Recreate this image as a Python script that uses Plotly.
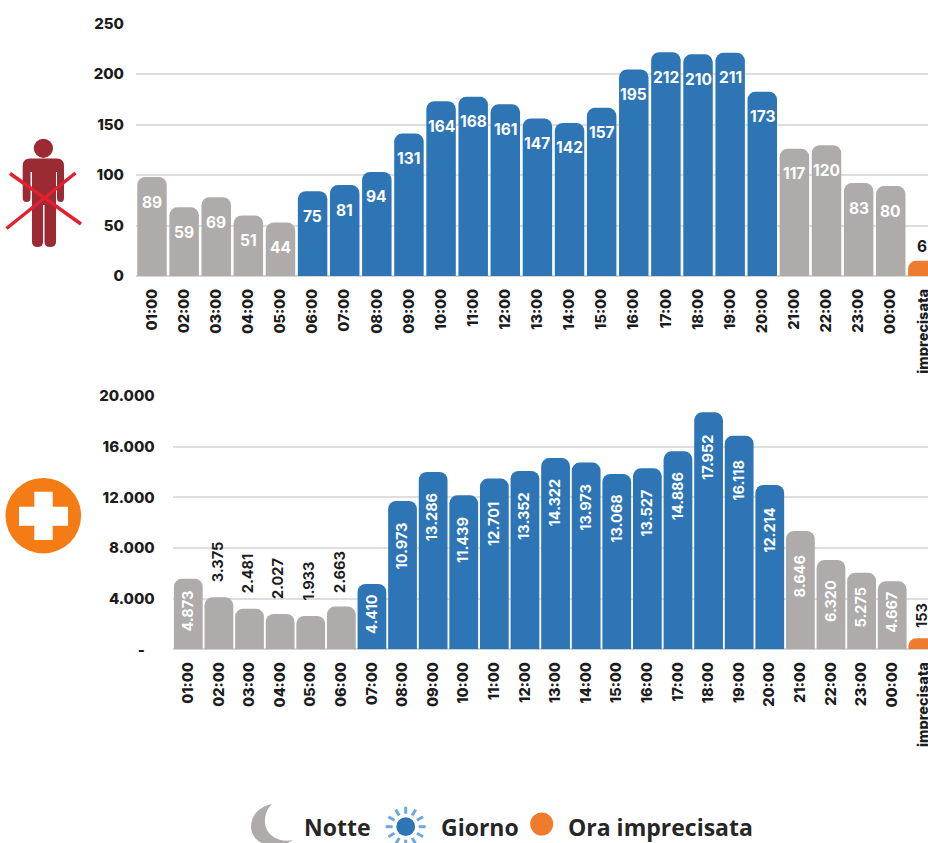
import math
import plotly.graph_objects as go

# ---------- data ----------
hours_top = ["01:00","02:00","03:00","04:00","05:00","06:00","07:00","08:00","09:00","10:00","11:00","12:00",
             "13:00","14:00","15:00","16:00","17:00","18:00","19:00","20:00","21:00","22:00","23:00","00:00","imprecisata"]
hours_bottom = list(hours_top)

top_heights = [98,68,78,60,53,84,90,103,141,173,177.5,170,156,151.5,166.5,204.5,221.5,219.5,221,182.5,126,129.5,92,89,15]
top_labels = ["89","59","69","51","44","75","81","94","131","164","168","161","147","142","157","195","212","210","211","173","117","120","83","80","6"]
top_periods = ["n"]*5 + ["g"]*15 + ["n"]*4 + ["o"]

bottom_heights = [5580,4106,3210,2790,2630,3370,5160,11710,14000,12160,13480,14080,15100,14740,13840,14290,15630,18710,16870,12970,9340,7050,6050,5370,870]
bottom_labels = ["4.873","3.375","2.481","2.027","1.933","2.663","4.410","10.973","13.286","11.439","12.701","13.352","14.322","13.973","13.068","13.527","14.886","17.952","16.118","12.214","8.646","6.320","5.275","4.667","153"]
bottom_periods = ["n"]*6 + ["g"]*14 + ["n"]*4 + ["o"]
bottom_outside = {"3.375","2.481","2.027","1.933","2.663","153"}

top_ticks = [0,50,100,150,200,250]
top_ticktext = ["0","50","100","150","200","250"]
bottom_ticks = [0,4000,8000,12000,16000,20000]
bottom_ticktext = ["-\u00a0\u00a0\u00a0","4.000","8.000","12.000","16.000","20.000"]

legend_names = ["Notte","Giorno","Ora imprecisata"]

# ---------- styles ----------
W, H = 928, 843
GRAY, BLUE, ORANGE = "#AEABAA", "#2E75B6", "#EF7B2D"
COL = {"n": GRAY, "g": BLUE, "o": ORANGE}
FONT = "Inter, 'Open Sans', sans-serif"
LEGEND_FONT = "'Open Sans', Inter, sans-serif"
INK = "#1c1c1c"

fig = go.Figure()
fig.add_trace(go.Bar(x=hours_top, y=top_heights, width=0.918, marker=dict(color=[COL[p] for p in top_periods], cornerradius=8, line_width=0),
                     xaxis="x", yaxis="y", showlegend=False, hoverinfo="skip"))
fig.add_trace(go.Bar(x=hours_bottom, y=bottom_heights, width=0.94, marker=dict(color=[COL[p] for p in bottom_periods], cornerradius=8, line_width=0),
                     xaxis="x2", yaxis="y2", showlegend=False, hoverinfo="skip"))
fig.add_trace(go.Scatter(x=[], y=[], xaxis="x3", yaxis="y3", showlegend=False))

ann = []
# top labels
for h, v, t in zip(hours_top, top_heights, top_labels):
    out = t == "6"
    ann.append(dict(x=h, y=v, xref="x", yref="y", text=t, showarrow=False, yanchor="middle", xanchor="center",
                    yshift=14 if out else -25, xshift=-1 if out else 0,
                    font=dict(family=FONT, size=15.5, weight=700, color=INK if out else "white")))
# bottom labels
px_per_unit = 253.3 / 20000
for h, v, t in zip(hours_bottom, bottom_heights, bottom_labels):
    out = t in bottom_outside
    if out:
        shift = 23 if t == "153" else 35
        color = INK
    else:
        shift = -min(45, 0.46 * v * px_per_unit)
        color = "white"
    ann.append(dict(x=h, y=v, xref="x2", yref="y2", text=t, showarrow=False, textangle=-90, yanchor="middle", xanchor="center",
                    yshift=shift, xshift=-2 if out else -1, font=dict(family=FONT, size=14.5, weight=700, color=color)))
# legend texts
for name, cx in zip(legend_names, [337, 479.5, 660.5]):
    ann.append(dict(x=cx, y=827, xref="x3", yref="y3", text=name, showarrow=False, xanchor="center", yanchor="middle",
                    font=dict(family=LEGEND_FONT, size=23, weight=700, color="#262626")))

shapes = []
def path(d, fill):
    shapes.append(dict(type="path", xref="x3", yref="y3", path=d, fillcolor=fill, line_width=0, layer="above"))
def circle(cx, cy, r, fill):
    shapes.append(dict(type="circle", xref="x3", yref="y3", x0=cx-r, x1=cx+r, y0=cy-r, y1=cy+r, fillcolor=fill, line_width=0, layer="above"))
def line(x0, y0, x1, y1, color, w):
    shapes.append(dict(type="line", xref="x3", yref="y3", x0=x0, y0=y0, x1=x1, y1=y1, line=dict(color=color, width=w), layer="above"))

# person with red cross
MAROON, RED = "#9B2A33", "#E2202E"
circle(43.4, 148.3, 9.6, MAROON)
path("M22.7 166 Q22.7 158.5 30 158.5 H57 Q64 158.5 64 166 V198 Q64 202 60.5 202 Q57 202 57 198 V172 H56 V242 Q56 247 50 247 "
     "Q44.5 247 44.5 242 V205 H43 V242 Q43 247 37.5 247 Q32 247 32 242 V172 H30.5 V198 Q30.5 202 26.6 202 Q22.7 202 22.7 198 Z", MAROON)
line(10, 173.5, 81, 224, RED, 3.5)
line(75.5, 173, 6.5, 228.5, RED, 3.5)

# medical cross
circle(43.3, 515.7, 37.8, "#F57C14")
path("M34.3 491.7 H52.7 V506.7 H68 V525.7 H52.7 V540 H34.3 V525.7 H19 V506.7 H34.3 Z", "white")

# legend icons
path("M272 804 C258 807 251 816 251 827 C251 838 262 846 274 846 C282 846 288 843 293 840 C280 843 266 836 265 823 C264.5 815 267 809 272 804 Z", GRAY)
for k in range(12):
    a = math.radians(30 * k)
    line(405.7 + 13*math.cos(a), 826.7 + 13*math.sin(a), 405.7 + 20*math.cos(a), 826.7 + 20*math.sin(a), "#6FA8DC", 3)
circle(405.7, 826.7, 9.4, BLUE)
circle(541.7, 824, 11.5, ORANGE)

tickfont = dict(family=FONT, size=14.5, weight=800, color=INK)
def xaxis(domain, rng, anchor, standoff=9):
    return dict(domain=domain, range=rng, anchor=anchor, type="category", tickangle=-90, tickfont=tickfont,
                ticks="", showgrid=False, showline=False, zeroline=False, ticklabelstandoff=standoff,
                categoryorder="array", categoryarray=hours_top, automargin=False)
def yaxis(domain, rng, anchor, vals, text, standoff):
    return dict(domain=domain, range=rng, anchor=anchor, tickvals=vals, ticktext=text, tickfont=dict(tickfont, size=15),
                ticks="", showgrid=True, gridcolor="#DEDEDE", gridwidth=1.5, zeroline=True, zerolinecolor="#D6D6D6",
                zerolinewidth=1.5, showline=False, ticklabelstandoff=standoff, automargin=False)

fig.update_layout(
    width=W, height=H, autosize=False,
    margin=dict(l=0, r=0, t=0, b=0, pad=0, autoexpand=False),
    paper_bgcolor="white", plot_bgcolor="rgba(0,0,0,0)",
    barmode="group",
    xaxis=xaxis([136/W, 1], [-0.498, 24.16], "y"),
    yaxis=yaxis([1-276/H, 1-23.5/H], [0, 250], "x", top_ticks, top_ticktext, 11),
    xaxis2=xaxis([172.7/W, 1], [-0.51, 24.17], "y2"),
    yaxis2=yaxis([1-649.3/H, 1-396/H], [0, 20000], "x2", bottom_ticks, bottom_ticktext, 17),
    xaxis3=dict(domain=[0, 1], range=[0, W], visible=False, anchor="y3"),
    yaxis3=dict(domain=[0, 1], range=[H, 0], visible=False, anchor="x3"),
    annotations=ann, shapes=shapes,
)

fig.write_html("out.html", config={"displayModeBar": False},
               post_script="document.body.style.margin='0';document.body.style.overflow='hidden';")
